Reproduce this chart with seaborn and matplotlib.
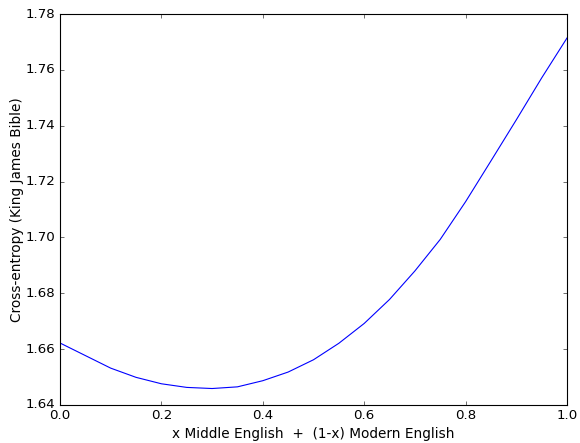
import matplotlib
matplotlib.use("Agg")
import matplotlib.pyplot as plt
import seaborn as sns
import pandas as pd
from matplotlib.ticker import FormatStrFormatter

mix = [0.0, 0.05, 0.1, 0.15, 0.2, 0.25, 0.3, 0.35, 0.4, 0.45, 0.5,
       0.55, 0.6, 0.65, 0.7, 0.75, 0.8, 0.85, 0.9, 0.95, 1.0]
cross_entropy = [1.6622, 1.6577, 1.6532, 1.6499, 1.6476, 1.6463, 1.6459, 1.6465,
                 1.6487, 1.6518, 1.6562, 1.6621, 1.6692, 1.6778, 1.6880, 1.6993,
                 1.7128, 1.7274, 1.7421, 1.7571, 1.7714]

plt.style.use("classic")
plt.rcParams["font.family"] = ["DejaVu Sans"]

df = pd.DataFrame({"x": mix, "y": cross_entropy})

fig = plt.figure(figsize=(580 / 80, 443 / 80), dpi=80, facecolor="white")
ax = fig.add_axes([60 / 580, 1 - 405 / 443, 507 / 580, 391 / 443])
sns.lineplot(data=df, x="x", y="y", ax=ax, color="b", linewidth=1)
ax.set_xlim(0, 1)
ax.set_ylim(1.64, 1.78)
ax.set_xticks([0.0, 0.2, 0.4, 0.6, 0.8, 1.0])
ax.set_yticks([1.64, 1.66, 1.68, 1.70, 1.72, 1.74, 1.76, 1.78])
ax.xaxis.set_major_formatter(FormatStrFormatter("%.1f"))
ax.yaxis.set_major_formatter(FormatStrFormatter("%.2f"))
ax.set_xlabel("x Middle English  +  (1-x) Modern English", fontsize=12.3, labelpad=4.5)
ax.set_ylabel("Cross-entropy (King James Bible)", fontsize=12.3, labelpad=1.5)
ax.tick_params(labelsize=12)
fig.savefig("out.png", dpi=80, facecolor="white")
